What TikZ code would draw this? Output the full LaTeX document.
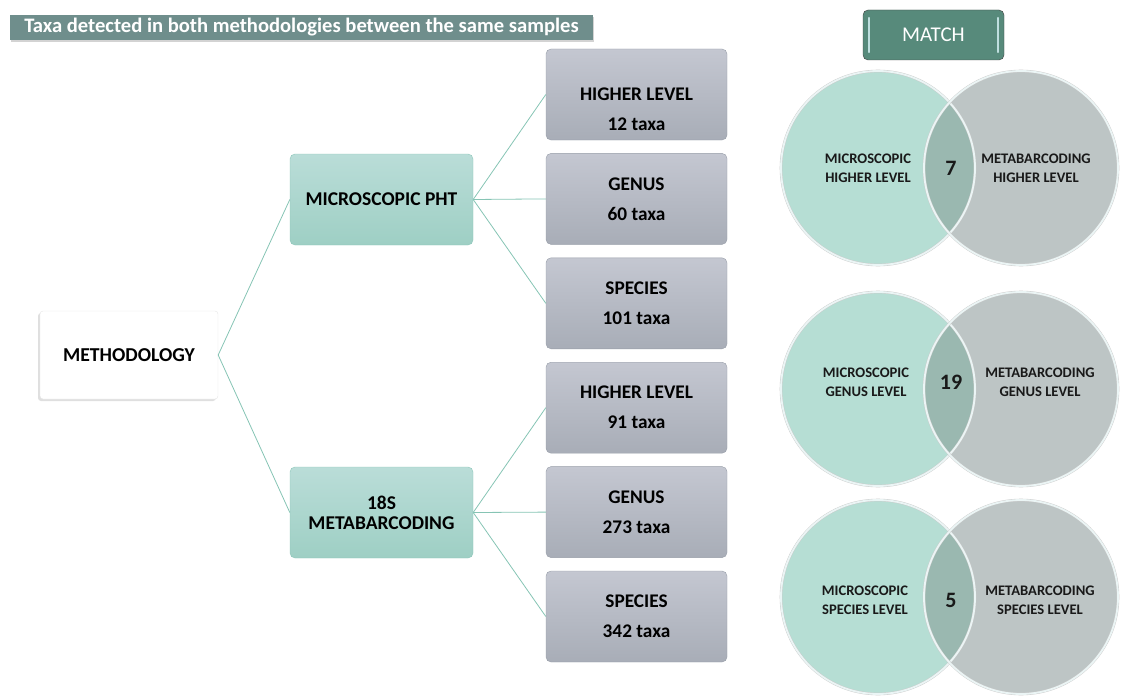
\documentclass[tikz,border=0pt]{standalone}
\usepackage{fontspec}
\setmainfont{Carlito}
\usetikzlibrary{shapes, positioning, shadows}
\usepackage{xcolor}

\definecolor{linkteal}{HTML}{86C4B4}
\definecolor{tealtop}{HTML}{BADDD8}
\definecolor{tealbot}{HTML}{9ECFC4}
\definecolor{tealedge}{HTML}{8CC6B9}
\definecolor{greytop}{HTML}{C4C7D1}
\definecolor{greybot}{HTML}{A8ADB7}
\definecolor{greyedge}{HTML}{979DA8}
\definecolor{titlefill}{HTML}{6F8E8C}
\definecolor{matchfill}{HTML}{578A7B}
\definecolor{micfill}{HTML}{B6DED4}
\definecolor{metafill}{HTML}{BDC5C5}
\definecolor{bothfill}{HTML}{9AB8B0}

\begin{document}
\begin{tikzpicture}[
    x=1pt, y=-1pt,
    node distance=13pt and 73pt,
    methbox/.style={
        rectangle, rounded corners=3pt,
        draw=black!10, fill=white,
        drop shadow={shadow xshift=-2pt, shadow yshift=-2pt, opacity=.25},
        minimum width=178pt, minimum height=88pt,
        align=center,
        font=\bfseries\fontsize{19.7}{21}\selectfont
    },
    kindbox/.style={
        rectangle, rounded corners=5pt,
        draw=tealedge, top color=tealtop, bottom color=tealbot,
        minimum width=183pt, minimum height=91pt,
        align=center,
        font=\bfseries\fontsize{19.5}{20}\selectfont
    },
    levelbox/.style={
        rectangle, rounded corners=5pt,
        draw=greyedge, top color=greytop, bottom color=greybot,
        minimum width=181pt, minimum height=91pt,
        align=center,
        font=\bfseries\fontsize{19.3}{30}\selectfont
    },
    vennring/.style={
        circle, minimum size=194pt, inner sep=0pt,
        draw=gray!40, double=white!92!teal, double distance=1.8pt
    },
    venntext/.style={
        align=center, text=black!90,
        font=\bfseries\fontsize{14.6}{19}\selectfont
    },
    link/.style={draw=linkteal, thick}
]
\useasboundingbox (0,0) rectangle (1121,698);

% Header and match button
\node[fill=titlefill, text=white, minimum width=583pt, minimum height=25pt,
      inner sep=0pt, font=\bfseries\fontsize{20.6}{21}\selectfont,
      drop shadow={shadow xshift=1pt, shadow yshift=-2pt, opacity=.35}]
      (title) at (301.5,27.5) {Taxa detected in both methodologies between the same samples};

\node[fill=matchfill, draw=black!75, rounded corners=5pt, text=white,
      minimum width=141pt, minimum height=50pt,
      font=\fontsize{21}{22}\selectfont] (match) at (933.5,35) {MATCH};
\draw[white!75!teal, line width=2pt, line cap=round]
    ([xshift=6pt, yshift=-8pt]match.north west) -- ([xshift=6pt, yshift=8pt]match.south west);
\draw[white!75!teal, line width=2pt, line cap=round]
    ([xshift=-6pt, yshift=-8pt]match.north east) -- ([xshift=-6pt, yshift=8pt]match.south east);

% Tree nodes
\node[methbox] (meth) at (129,355) {METHODOLOGY};

\node[kindbox] (mic) at (381.5,199.5) {MICROSCOPIC PHT};
\node[kindbox] (meta) at (381.5,512.5) {18S\\METABARCODING};

\node[levelbox] (mhigh) at (636.5,94.5) {\rule{0pt}{43pt}HIGHER LEVEL\\12 taxa};
\node[levelbox, below=of mhigh] (mgen) {GENUS\\60 taxa};
\node[levelbox, below=of mgen] (mspe) {SPECIES\\101 taxa};
\node[levelbox, below=of mspe] (bhigh) {HIGHER LEVEL\\91 taxa};
\node[levelbox, below=of bhigh] (bgen) {GENUS\\273 taxa};
\node[levelbox, below=of bgen] (bspe) {SPECIES\\342 taxa};

% Links
\draw[link] (meth.east) -- (mic.west);
\draw[link] (meth.east) -- (meta.west);
\foreach \b in {mhigh, mgen, mspe}
    \draw[link] (mic.east) -- (\b.west);
\foreach \b in {bhigh, bgen, bspe}
    \draw[link] (meta.east) -- (\b.west);

% Venn pairs
\foreach \cy/\ty/\lx/\rx/\num/\lev in {168/168/868/1036/7/HIGHER, 389/382/866/1040/19/GENUS, 597/600/865/1040/5/SPECIES} {
    \fill[micfill] (878,\cy) circle (97);
    \fill[metafill] (1021,\cy) circle (97);
    \begin{scope}
        \clip (878,\cy) circle (97);
        \fill[bothfill] (1021,\cy) circle (97);
    \end{scope}
    \node[vennring] (vmic\lev) at (878,\cy) {};
    \node[vennring] (vmeta\lev) at (1021,\cy) {};
    \node[venntext] (tmic\lev) at (\lx,\ty) {MICROSCOPIC\\\lev{} LEVEL};
    \node[venntext] (tmeta\lev) at (\rx,\ty) {METABARCODING\\\lev{} LEVEL};
    \node[font=\bfseries\fontsize{22}{24}\selectfont, text=black!90] (n\lev) at (951,\ty) {\num};
}

\end{tikzpicture}
\end{document}
